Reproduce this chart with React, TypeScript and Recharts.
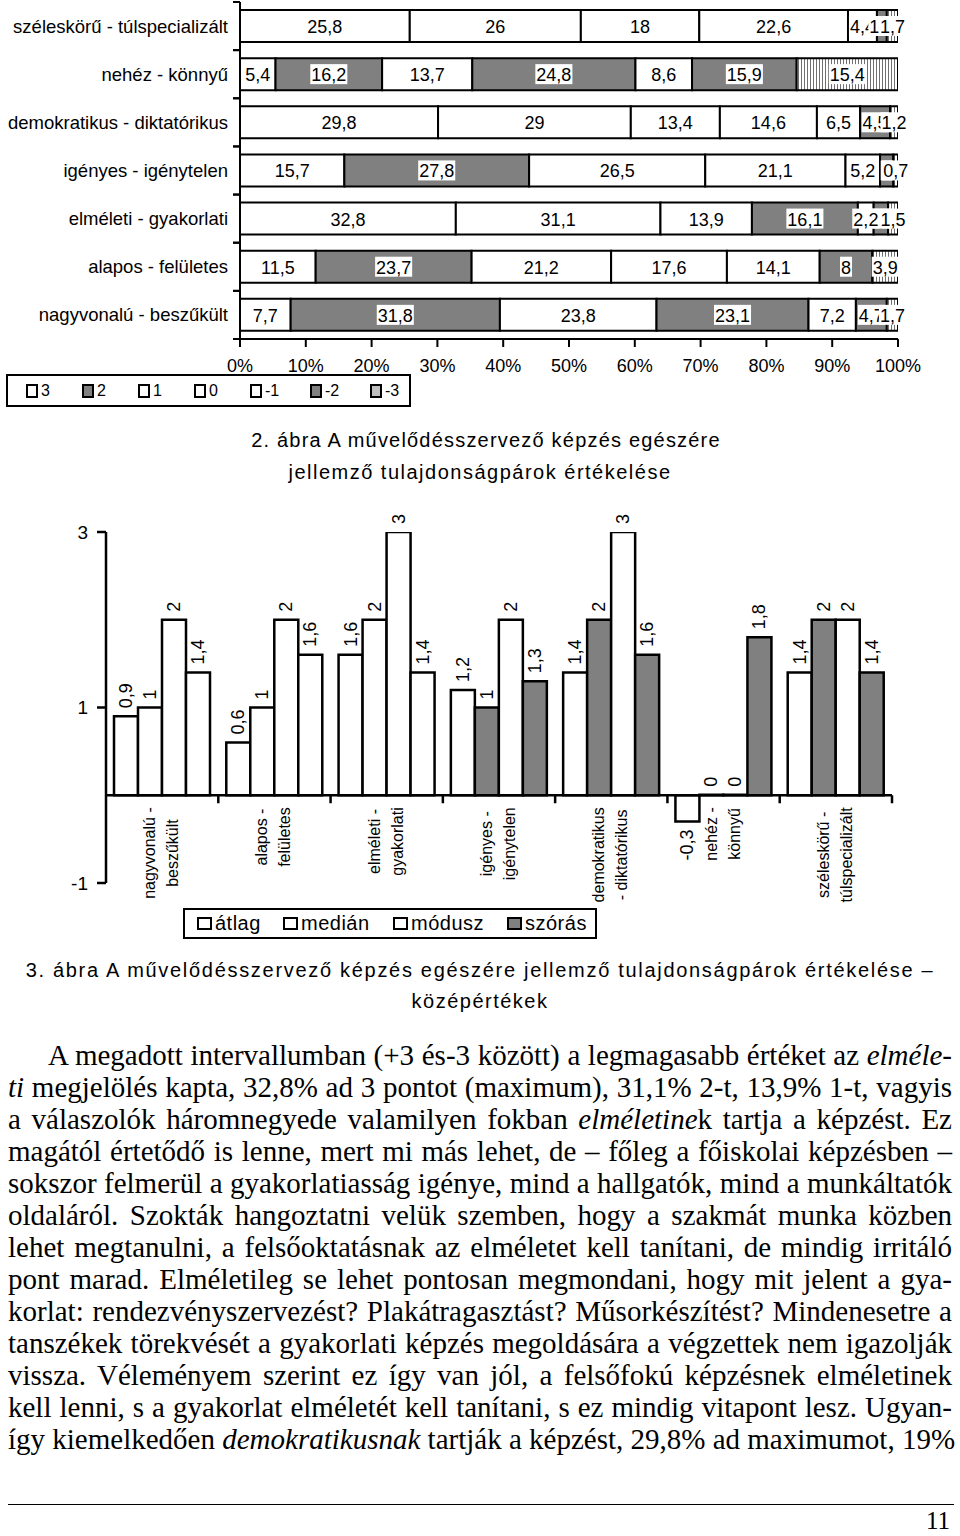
import React from 'react';
import { BarChart, Bar, XAxis, YAxis, Cell, LabelList, ReferenceLine } from 'recharts';

const SANS = "'Liberation Sans', Arial, Helvetica, sans-serif";
const SERIF = "'Liberation Serif', 'Times New Roman', serif";

// ---------------- Chart 1 (2. ábra) data ----------------
const PAIRS = [
  'széleskörű - túlspecializált',
  'nehéz - könnyű',
  'demokratikus - diktatórikus',
  'igényes - igénytelen',
  'elméleti - gyakorlati',
  'alapos - felületes',
  'nagyvonalú - beszűkült',
];
const SCORE_LABELS = ['3', '2', '1', '0', '-1', '-2', '-3'];
const SCORE_P3 = [25.8, 5.4, 29.8, 15.7, 32.8, 11.5, 7.7];
const SCORE_P2 = [26, 16.2, 29, 27.8, 31.1, 23.7, 31.8];
const SCORE_P1 = [18, 13.7, 13.4, 26.5, 13.9, 21.2, 23.8];
const SCORE_0 = [22.6, 24.8, 14.6, 21.1, 16.1, 17.6, 23.1];
const SCORE_M1 = [4.4, 8.6, 6.5, 5.2, 2.4, 14.1, 7.2];
const SCORE_M2 = [1.5, 15.9, 4.5, 2, 2.2, 8, 4.7];
const SCORE_M3 = [1.7, 15.4, 1.2, 0.7, 1.5, 3.9, 1.7];
const PCT_TICKS = [0, 10, 20, 30, 40, 50, 60, 70, 80, 90, 100];

// ---------------- Chart 2 (3. ábra) data ----------------
const CATS2 = [
  'nagyvonalú -\nbeszűkült',
  'alapos -\nfelületes',
  'elméleti -\ngyakorlati',
  'igényes -\nigénytelen',
  'demokratikus\n- diktatórikus',
  'nehéz -\nkönnyű',
  'széleskörű -\ntúlspecializált',
];
const STAT_LABELS = ['átlag', 'medián', 'módusz', 'szórás'];
const ATLAG = [0.9, 0.6, 1.6, 1.2, 1.4, -0.3, 1.4];
const MEDIAN = [1, 1, 2, 1, 2, 0, 2];
const MODUSZ = [2, 2, 3, 2, 3, 0, 2];
const SZORAS = [1.4, 1.6, 1.4, 1.3, 1.6, 1.8, 1.4];
const Y2_TICKS = [-1, 1, 3];

// ---------------- styles ----------------
const WHITE = '#ffffff';
const GRAY = '#808080';
const LIGHT = '#c0c0c0';
const FILLS: Record<string, string> = { W: WHITE, G: GRAY, P: 'url(#vstripe)' };
// per row (top to bottom) / per score segment (3 .. -3)
const FILL1 = ['WWWWWGP', 'WGWGWGP', 'WWWWWGP', 'WGWWWGP', 'WWWGWGP', 'WGWWWGP', 'WGWGWGP'];
const LEGEND1_FILL = [WHITE, GRAY, WHITE, WHITE, WHITE, GRAY, LIGHT];
// per statistic / per category
const FILL2 = ['WWWWWWW', 'WWWGGWG', 'WWWWWWW', 'WWWGGGG'];
const LEGEND2_FILL = [WHITE, WHITE, WHITE, GRAY];

const fmt = (v: number) => String(v).replace('.', ',');

let _ctx: any = null;
function measure(t: string, font: string): number {
  if (!_ctx) {
    try {
      _ctx = document.createElement('canvas').getContext('2d');
    } catch (e) {
      _ctx = null;
    }
  }
  if (!_ctx) return t.length * 8;
  _ctx.font = font;
  return _ctx.measureText(t).width;
}

// ---------------- Chart 1 ----------------
const C1_W = 960;
const C1_M = { top: 2, right: 62, bottom: 0, left: 0 };
const Y1_W = 240;
const X1_H = 40;
const C1_PLOT_H = 337;
const C1_H = C1_M.top + C1_PLOT_H + X1_H + C1_M.bottom;
const AX1 = C1_M.left + Y1_W;
const BAND1 = C1_PLOT_H / PAIRS.length;

const SERIES1 = [SCORE_P3, SCORE_P2, SCORE_P1, SCORE_0, SCORE_M1, SCORE_M2, SCORE_M3];
const KEYS1 = SCORE_LABELS.map((_, i) => `s${i}`);
const rows1 = PAIRS.map((name, r) => {
  const o: any = { name };
  KEYS1.forEach((k, s) => {
    o[k] = SERIES1[s][r];
  });
  return o;
});

function CatTick1(props: any) {
  const { y, payload } = props;
  const half = payload && payload.offset ? payload.offset : BAND1 / 2;
  return (
    <g>
      <line x1={AX1 - 7} x2={AX1} y1={y - half} y2={y - half} stroke="#000" strokeWidth={2} />
      <line x1={AX1 - 7} x2={AX1} y1={y + half} y2={y + half} stroke="#000" strokeWidth={2} />
      <text x={AX1 - 12} y={y} textAnchor="end" dominantBaseline="central" fontSize={18.5} fontFamily={SANS} fill="#000">
        {payload.value}
      </text>
    </g>
  );
}

function SegLabel(props: any) {
  const { x, y, width, height, raw } = props;
  if (raw == null || x == null) return null;
  const txt = fmt(raw);
  const fs = 18;
  const w = measure(txt, `${fs}px ${SANS}`);
  const cx = x + width / 2;
  const cy = y + height / 2;
  return (
    <g>
      <rect x={cx - w / 2 - 1} y={cy - 10} width={w + 2} height={20} fill="#fff" />
      <text x={cx} y={cy + 1} textAnchor="middle" dominantBaseline="central" fontSize={fs} fontFamily={SANS} fill="#000">
        {txt}
      </text>
    </g>
  );
}

function Chart1() {
  return (
    <BarChart
      layout="vertical"
      width={C1_W}
      height={C1_H}
      data={rows1}
      stackOffset="expand"
      margin={C1_M}
      barCategoryGap={8}
    >
      <defs>
        <pattern id="vstripe" width="3" height="4" patternUnits="userSpaceOnUse">
          <rect width="3" height="4" fill="#ffffff" />
          <rect width="1" height="4" fill="#707070" />
        </pattern>
      </defs>
      <XAxis
        type="number"
        domain={[0, 1]}
        ticks={PCT_TICKS.map((t) => t / 100)}
        tickFormatter={(v: number) => `${Math.round(v * 100)}%`}
        axisLine={{ stroke: '#000', strokeWidth: 2 }}
        tickLine={{ stroke: '#000', strokeWidth: 2 }}
        tickSize={8}
        tickMargin={12}
        height={X1_H}
        tick={{ fill: '#000', fontSize: 18, fontFamily: SANS }}
        allowDataOverflow
      />
      <YAxis
        type="category"
        dataKey="name"
        width={Y1_W}
        axisLine={{ stroke: '#000', strokeWidth: 2 }}
        tickLine={false}
        tick={<CatTick1 />}
        interval={0}
      />
      {KEYS1.map((k, s) => (
        <Bar key={k} dataKey={k} stackId="a" isAnimationActive={false} stroke="#000" strokeWidth={2}>
          {rows1.map((_, r) => (
            <Cell key={r} fill={FILLS[FILL1[r][s]]} />
          ))}
          <LabelList
            dataKey={k}
            content={(p: any) => <SegLabel {...p} raw={p.index != null ? SERIES1[s][p.index] : p.value} />}
          />
        </Bar>
      ))}
    </BarChart>
  );
}

// ---------------- Chart 2 ----------------
const C2_W = 960;
const C2_M = { top: 52, right: 68, bottom: 0, left: 0 };
const Y2_W = 106;
const X2_H = 34;
const C2_PLOT_H = 351;
const C2_PLOT_W = C2_W - C2_M.left - C2_M.right - Y2_W;
const C2_H = C2_M.top + C2_PLOT_H + X2_H + C2_M.bottom;
const Y2_MIN = Y2_TICKS[0];
const Y2_MAX = Y2_TICKS[Y2_TICKS.length - 1];
const ZERO2 = C2_M.top + (C2_PLOT_H * (Y2_MAX - 0)) / (Y2_MAX - Y2_MIN);
const BAND2 = C2_PLOT_W / CATS2.length;

const SERIES2 = [ATLAG, MEDIAN, MODUSZ, SZORAS];
const KEYS2 = ['atlag', 'median', 'modusz', 'szoras'];
const rows2 = CATS2.map((name, r) => {
  const o: any = { name };
  KEYS2.forEach((k, s) => {
    o[k] = SERIES2[s][r];
  });
  return o;
});

function CatTick2(props: any) {
  const { x, payload } = props;
  const lines = String(payload.value).split('\n');
  const fs = 16;
  const maxW = Math.max(...lines.map((l) => measure(l, `${fs}px ${SANS}`)));
  const top = ZERO2 + 12;
  const cy = top + maxW / 2;
  const gap = 23;
  const half = BAND2 / 2;
  return (
    <g>
      <line x1={x + half} x2={x + half} y1={ZERO2} y2={ZERO2 + 8} stroke="#000" strokeWidth={2.5} />
      {lines.map((l, i) => {
        const lx = x - 1 + (i - (lines.length - 1) / 2) * gap;
        return (
          <text
            key={i}
            x={lx}
            y={cy}
            transform={`rotate(-90, ${lx}, ${cy})`}
            textAnchor="middle"
            dominantBaseline="central"
            fontSize={fs}
            fontFamily={SANS}
            fill="#000"
          >
            {l}
          </text>
        );
      })}
    </g>
  );
}

function StatLabel(props: any) {
  const { x, y, width, height, raw } = props;
  if (raw == null || x == null) return null;
  const h = height || 0;
  const top = Math.min(y, y + h);
  const bottom = Math.max(y, y + h);
  const cx = x + width / 2;
  const neg = raw < 0;
  const ty = neg ? bottom + 8 : top - 8;
  return (
    <text
      x={cx}
      y={ty}
      transform={`rotate(-90, ${cx}, ${ty})`}
      textAnchor={neg ? 'end' : 'start'}
      dominantBaseline="central"
      fontSize={18}
      fontFamily={SANS}
      fill="#000"
    >
      {fmt(raw)}
    </text>
  );
}

function Chart2() {
  return (
    <BarChart width={C2_W} height={C2_H} data={rows2} margin={C2_M} barCategoryGap={8} barGap={0}>
      <XAxis dataKey="name" axisLine={false} tickLine={false} height={X2_H} interval={0} tick={<CatTick2 />} />
      <YAxis
        type="number"
        domain={[Y2_MIN, Y2_MAX]}
        ticks={Y2_TICKS}
        width={Y2_W}
        axisLine={{ stroke: '#000', strokeWidth: 2.5 }}
        tickLine={{ stroke: '#000', strokeWidth: 2.5 }}
        tickSize={9}
        tickMargin={9}
        tick={{ fill: '#000', fontSize: 19, fontFamily: SANS }}
        allowDataOverflow
      />
      {KEYS2.map((k, s) => (
        <Bar key={k} dataKey={k} isAnimationActive={false} stroke="#000" strokeWidth={2.5} minPointSize={0.5}>
          {rows2.map((_, r) => (
            <Cell key={r} fill={FILLS[FILL2[s][r]]} />
          ))}
          <LabelList
            dataKey={k}
            content={(p: any) => (
              <StatLabel {...p} raw={typeof p.value === 'number' ? p.value : SERIES2[s][p.index]} />
            )}
          />
        </Bar>
      ))}
      <ReferenceLine y={0} stroke="#000" strokeWidth={2.5} />
    </BarChart>
  );
}

// ---------------- Page text ----------------
const BODY = [
  'A megadott intervallumban (+3 és-3 között) a legmagasabb értéket az *elméle-*',
  '*ti* megjelölés kapta, 32,8% ad 3 pontot (maximum), 31,1% 2-t, 13,9% 1-t, vagyis',
  'a válaszolók háromnegyede valamilyen fokban *elméletine*k tartja a képzést. Ez',
  'magától értetődő is lenne, mert mi más lehet, de – főleg a főiskolai képzésben –',
  'sokszor felmerül a gyakorlatiasság igénye, mind a hallgatók, mind a munkáltatók',
  'oldaláról. Szokták hangoztatni velük szemben, hogy a szakmát munka közben',
  'lehet megtanulni, a felsőoktatásnak az elméletet kell tanítani, de mindig irritáló',
  'pont marad. Elméletileg se lehet pontosan megmondani, hogy mit jelent a gya-',
  'korlat: rendezvényszervezést? Plakátragasztást? Műsorkészítést? Mindenesetre a',
  'tanszékek törekvését a gyakorlati képzés megoldására a végzettek nem igazolják',
  'vissza. Véleményem szerint ez így van jól, a felsőfokú képzésnek elméletinek',
  'kell lenni, s a gyakorlat elméletét kell tanítani, s ez mindig vitapont lesz. Ugyan-',
  'így kiemelkedően *demokratikusnak* tartják a képzést, 29,8% ad maximumot, 19%',
];

function BodyLine({ text, indent }: { text: string; indent: number }) {
  const parts = text.split('*');
  return (
    <div
      style={{
        height: 32,
        lineHeight: '32px',
        textAlign: 'justify',
        textAlignLast: 'justify' as any,
        whiteSpace: 'nowrap',
        paddingLeft: indent,
      }}
    >
      {parts.map((p, i) => (i % 2 === 1 ? <i key={i}>{p}</i> : <span key={i}>{p}</span>))}
    </div>
  );
}

const titleStyle: React.CSSProperties = {
  position: 'absolute',
  left: 0,
  width: 960,
  textAlign: 'center',
  fontFamily: SANS,
  fontSize: 20,
  letterSpacing: 1.2,
  color: '#000',
  lineHeight: '32px',
};

export default function App() {
  return (
    <div style={{ position: 'absolute', left: 0, top: 0, width: 960, height: 1536, background: '#fff', overflow: 'hidden' }}>
      <div style={{ position: 'absolute', left: 0, top: 0 }}>
        <Chart1 />
      </div>
      {/* legend of chart 1 */}
      <div
        style={{
          position: 'absolute',
          left: 6,
          top: 374,
          width: 401,
          height: 29,
          border: '2px solid #000',
          fontFamily: SANS,
          fontSize: 16,
        }}
      >
        {SCORE_LABELS.map((l, i) => (
          <div key={l} style={{ position: 'absolute', left: 18 + i * 56 + (i >= 5 ? (i - 4) * 4 : 0), top: 6, display: 'flex', alignItems: 'center' }}>
            <span
              style={{
                display: 'inline-block',
                width: 8,
                height: 10,
                border: '2px solid #000',
                background: LEGEND1_FILL[i],
                marginRight: 3,
              }}
            />
            <span style={{ lineHeight: '17px' }}>{l}</span>
          </div>
        ))}
      </div>
      <div style={{ ...titleStyle, top: 424, left: 6 }}>2. ábra A művelődésszervező képzés egészére</div>
      <div style={{ ...titleStyle, top: 456, letterSpacing: 1.5 }}>jellemző tulajdonságpárok értékelése</div>

      <div style={{ position: 'absolute', left: 0, top: 480 }}>
        <Chart2 />
      </div>
      {/* legend of chart 2 */}
      <div
        style={{
          position: 'absolute',
          left: 183,
          top: 908,
          width: 410,
          height: 27,
          border: '2px solid #000',
          fontFamily: SANS,
          fontSize: 20,
          background: '#fff',
        }}
      >
        {STAT_LABELS.map((l, i) => (
          <div key={l} style={{ position: 'absolute', left: [12, 98, 208, 322][i], top: 2, display: 'flex', alignItems: 'center', height: 23 }}>
            <span
              style={{
                display: 'inline-block',
                width: 11,
                height: 9,
                border: '2px solid #000',
                background: LEGEND2_FILL[i],
                marginRight: 3,
              }}
            />
            <span style={{ lineHeight: '23px', letterSpacing: 0.5 }}>{l}</span>
          </div>
        ))}
      </div>
      <div style={{ ...titleStyle, top: 954, letterSpacing: 1.7 }}>
        3. ábra A művelődésszervező képzés egészére jellemző tulajdonságpárok értékelése –
      </div>
      <div style={{ ...titleStyle, top: 985, letterSpacing: 1.5 }}>középértékek</div>

      <div style={{ position: 'absolute', left: 8, top: 1039, width: 944, fontFamily: SERIF, fontSize: 29, color: '#000' }}>
        {BODY.map((t, i) => (
          <BodyLine key={i} text={t} indent={i === 0 ? 40 : 0} />
        ))}
      </div>
      <div style={{ position: 'absolute', left: 8, top: 1504, width: 946, borderTop: '1.5px solid #000' }} />
      <div style={{ position: 'absolute', right: 10, top: 1508, fontFamily: SERIF, fontSize: 25, lineHeight: '25px' }}>11</div>
    </div>
  );
}
